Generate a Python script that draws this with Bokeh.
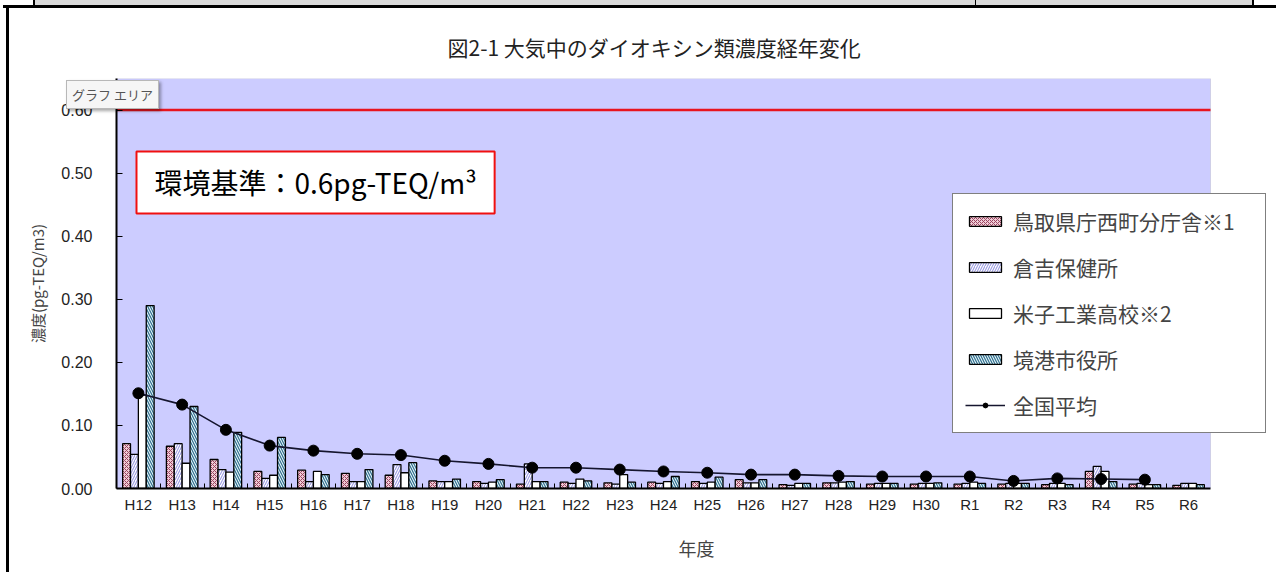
from bokeh.plotting import figure
from bokeh.models import (ColumnDataSource, FixedTicker, Label, Legend, LegendItem,
                          NumeralTickFormatter, BoxAnnotation, Div)
from bokeh.layouts import column
from bokeh.transform import dodge
from bokeh.embed import file_html
from bokeh.resources import INLINE

# ---------------- data ----------------
years = ["H12", "H13", "H14", "H15", "H16", "H17", "H18", "H19", "H20", "H21",
         "H22", "H23", "H24", "H25", "H26", "H27", "H28", "H29", "H30", "R1",
         "R2", "R3", "R4", "R5", "R6"]
tottori = [0.071, 0.067, 0.046, 0.027, 0.029, 0.024, 0.021, 0.012, 0.011, 0.007,
           0.010, 0.009, 0.010, 0.011, 0.014, 0.006, 0.009, 0.007, 0.007, 0.007,
           0.007, 0.006, 0.027, 0.007, 0.005]
kurayoshi = [0.054, 0.071, 0.030, 0.016, 0.011, 0.011, 0.038, 0.011, 0.008, 0.039,
             0.008, 0.007, 0.008, 0.008, 0.009, 0.005, 0.009, 0.008, 0.008, 0.008,
             0.008, 0.008, 0.035, 0.008, 0.008]
yonago = [0.148, 0.040, 0.026, 0.021, 0.027, 0.011, 0.025, 0.011, 0.010, 0.011,
          0.015, 0.022, 0.011, 0.010, 0.009, 0.008, 0.010, 0.008, 0.008, 0.010,
          0.008, 0.008, 0.027, 0.006, 0.008]
sakaiminato = [0.290, 0.130, 0.089, 0.081, 0.022, 0.030, 0.041, 0.015, 0.014, 0.011,
               0.012, 0.010, 0.019, 0.018, 0.014, 0.008, 0.011, 0.008, 0.009, 0.008,
               0.008, 0.006, 0.011, 0.006, 0.006]
national = [0.151, 0.133, 0.093, 0.068, 0.060, 0.055, 0.053, 0.044, 0.039, 0.033,
            0.033, 0.030, 0.027, 0.025, 0.022, 0.022, 0.020, 0.019, 0.019, 0.019,
            0.012, 0.016, 0.015, 0.014, float("nan")]
standard = 0.6
y_ticks = [0.0, 0.1, 0.2, 0.3, 0.4, 0.5, 0.6]

series_names = ["鳥取県庁西町分庁舎※1", "倉吉保健所", "米子工業高校※2", "境港市役所"]
national_name = "全国平均"
title_text = "図2-1  大気中のダイオキシン類濃度経年変化"
y_label = "濃度(pg-TEQ/m3)"
x_label = "年度"
standard_label = "環境基準：0.6pg-TEQ/m³"
tooltip_text = "グラフ エリア"

# ---------------- layout ----------------
JP = "Noto Sans CJK JP"
SANS = "Liberation Sans"
W, H = 1276, 572
LEFT, TOP, BOTTOM, RIGHT = 116, 78, 84, 0
CAT_PX = 1094                      # pixel width of the category area
frame_w = W - LEFT - RIGHT
n = len(years)
x_lo, x_hi = -0.5, n - 0.5
x_end = x_lo + n * frame_w / CAT_PX

xs = list(range(n))
src = ColumnDataSource(dict(x=xs, tottori=tottori, kurayoshi=kurayoshi,
                            yonago=yonago, sakaiminato=sakaiminato,
                            national=national))

p = figure(width=W, height=H, x_range=(x_lo, x_end), y_range=(0, 0.65),
           output_backend="svg", toolbar_location=None,
           min_border_left=LEFT, min_border_right=RIGHT, min_border_top=TOP,
           min_border_bottom=BOTTOM, background_fill_color="white",
           border_fill_alpha=0, title=title_text)
p.styles = {
    "background": ("linear-gradient(#000,#000) 6px 5px / 3px 567px no-repeat, "
                   "linear-gradient(#000,#000) 3px 5px / 1273px 3px no-repeat, "
                   "linear-gradient(#000,#000) 33px 0px / 2px 5px no-repeat, "
                   "linear-gradient(#000,#000) 975px 0px / 1px 5px no-repeat, "
                   "linear-gradient(#000,#000) 1252px 0px / 2px 5px no-repeat, "
                   "linear-gradient(#D9D9D9,#D9D9D9) 33px 0px / 1220px 5px no-repeat, "
                   "white"),
}

p.title.align = "left"
p.title.offset = 331
p.title.text_font = JP
p.title.text_font_style = "normal"
p.title.text_font_size = "21px"
p.title.text_color = "#222222"
p.title.standoff = 33

p.grid.visible = False
p.outline_line_color = None

# plot-area background limited to the category area
p.add_layout(BoxAnnotation(left=x_lo, right=x_hi, fill_color="#CCCCFF", fill_alpha=1,
                           line_color="#9A9AB0", line_width=1, level="underlay"))

# y axis
p.yaxis.ticker = FixedTicker(ticks=y_ticks)
p.yaxis.formatter = NumeralTickFormatter(format="0.00")
p.yaxis.major_tick_in = 6
p.yaxis.major_tick_out = 0
p.yaxis.minor_tick_line_color = None
p.yaxis.axis_line_width = 2
p.yaxis.major_label_standoff = 24
p.yaxis.major_label_text_font = SANS
p.yaxis.major_label_text_font_size = "16px"
p.yaxis.major_label_text_color = "#222222"
p.yaxis.axis_label = y_label
p.yaxis.axis_label_text_font = JP
p.yaxis.axis_label_text_font_style = "normal"
p.yaxis.axis_label_text_font_size = "15px"
p.yaxis.axis_label_standoff = 10

# x axis
p.xaxis.ticker = FixedTicker(ticks=xs, minor_ticks=[i + 0.5 for i in xs[:-1]])
p.xaxis.major_label_overrides = {i: y for i, y in zip(xs, years)}
p.xaxis.bounds = (x_lo, x_hi)
p.xaxis.major_tick_in = 0
p.xaxis.major_tick_out = 0
p.xaxis.minor_tick_in = 5
p.xaxis.minor_tick_out = 0
p.xaxis.minor_tick_line_color = "black"
p.xaxis.axis_line_width = 2
p.xaxis.major_label_standoff = 7
p.xaxis.major_label_text_font = SANS
p.xaxis.major_label_text_font_size = "15px"
p.xaxis.major_label_text_color = "#222222"
p.xaxis.axis_label = x_label
p.xaxis.axis_label_text_font = JP
p.xaxis.axis_label_text_font_style = "normal"
p.xaxis.axis_label_text_font_size = "18px"
p.xaxis.axis_label_standoff = 19

# bars
bw = 0.18
styles = [
    dict(col="tottori", off=-0.27, fill_color="#F0CCD6", hatch_pattern="x",
         hatch_color="#9A4460", hatch_scale=4, hatch_weight=1),
    dict(col="kurayoshi", off=-0.09, fill_color="white", hatch_pattern="/",
         hatch_color="#9C9CE4", hatch_scale=5, hatch_weight=1.1),
    dict(col="yonago", off=0.09, fill_color="white", hatch_pattern=None,
         hatch_color="white", hatch_scale=5, hatch_weight=1),
    dict(col="sakaiminato", off=0.27, fill_color="#E6F4F8", hatch_pattern="\\",
         hatch_color="#2E6E8E", hatch_scale=5, hatch_weight=1.2),
]
bar_renderers = []
for s in styles:
    kw = dict(fill_color=s["fill_color"], line_color="black", line_width=1.3)
    if s["hatch_pattern"]:
        kw.update(hatch_pattern=s["hatch_pattern"], hatch_color=s["hatch_color"],
                  hatch_scale=s["hatch_scale"], hatch_weight=s["hatch_weight"])
    r = p.vbar(x=dodge("x", s["off"]), top=s["col"], width=bw, bottom=0,
               source=src, **kw)
    bar_renderers.append(r)

# national average
ln = p.line("x", "national", source=src, line_color="#15152E", line_width=1.6)
sc = p.scatter("x", "national", source=src, size=11, fill_color="black",
               line_color="black")

# environmental standard line across the category area
p.line(x=[x_lo, x_hi], y=[standard, standard], line_color="#E8141E", line_width=2.5)

p.add_layout(Label(x=-0.043, y=0.436, text=standard_label, text_font=JP,
                   text_font_size="28px", text_color="black",
                   text_baseline="bottom", text_align="left",
                   background_fill_color="white", border_line_color="#F01010",
                   border_line_width=2, padding=(18, 11)))

items = [LegendItem(label=nm, renderers=[r]) for nm, r in zip(series_names, bar_renderers)]
items.append(LegendItem(label=national_name, renderers=[ln, sc]))
legend = Legend(items=items, location=(952 - LEFT, 572 - BOTTOM - 433),
                orientation="vertical",
                background_fill_color="white", background_fill_alpha=1,
                border_line_color="black", border_line_width=1.5,
                label_text_font=JP, label_text_font_size="21px",
                label_height=21, label_width=240, glyph_width=40, glyph_height=12,
                label_standoff=8, spacing=16, padding=12, margin=0)
p.add_layout(legend, "center")

tip = Div(text=tooltip_text, styles={
    "position": "absolute", "left": "61px", "top": "75px", "z-index": "10",
    "background": "#F6F6F6", "border": "1px solid #B8B8B8",
    "box-shadow": "2px 2px 3px rgba(0,0,0,0.35)", "color": "#555555",
    "font-family": JP, "font-size": "13px", "line-height": "25px",
    "height": "29px", "box-sizing": "border-box", "display": "flex",
    "align-items": "center",
    "padding": "2px 5px", "white-space": "nowrap"})

open("out.html", "w").write(file_html(column(p, tip), INLINE))
